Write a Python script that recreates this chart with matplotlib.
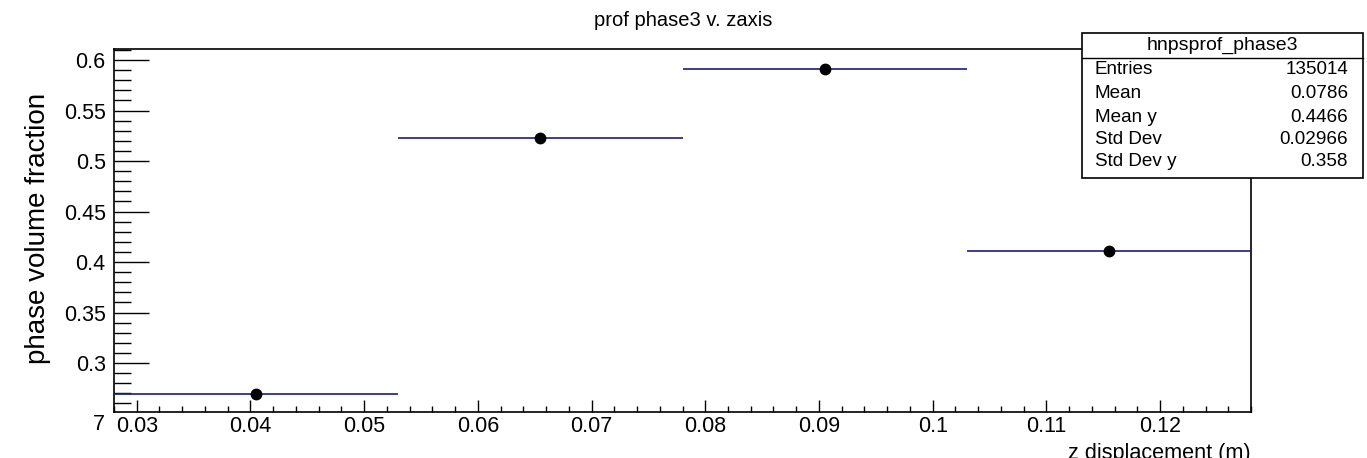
import matplotlib
matplotlib.use('Agg')
import matplotlib.pyplot as plt
from matplotlib.patches import Rectangle
from matplotlib.ticker import MultipleLocator
import numpy as np

plt.rcParams['font.family'] = ['Liberation Sans', 'DejaVu Sans']

# profile bins (z displacement) and mean phase volume fraction per bin
bin_edges = [0.028, 0.053, 0.078, 0.103, 0.128]
bin_means = [0.269, 0.5225, 0.591, 0.411]

stats_title = 'hnpsprof_phase3'
stats_names = ['Entries', 'Mean', 'Mean y', 'Std Dev', 'Std Dev y']
stats_values = ['135014', '0.0786', '0.4466', '0.02966', '0.358']

W, H = 1367, 458
fig = plt.figure(figsize=(W / 100, H / 100), dpi=100)

def fx(px):
    return px / W

def fy(py):
    return 1 - py / H

ax = fig.add_axes([fx(114), fy(412), fx(1251) - fx(114), fy(49) - fy(412)])

edges = np.array(bin_edges)
centers = (edges[:-1] + edges[1:]) / 2
half = (edges[1:] - edges[:-1]) / 2

ax.errorbar(centers, bin_means, xerr=half, fmt='o', color='black', ms=7.5,
            ecolor='#1c1c80', elinewidth=1.2, capsize=0, zorder=3)

ax.set_xlim(edges[0], edges[-1])
ax.set_ylim(0.2515, 0.611)

ax.xaxis.set_major_locator(MultipleLocator(0.01))
ax.xaxis.set_minor_locator(MultipleLocator(0.002))
ax.yaxis.set_major_locator(MultipleLocator(0.05))
ax.yaxis.set_minor_locator(MultipleLocator(0.01))
ax.set_xticks([0.03, 0.04, 0.05, 0.06, 0.07, 0.08, 0.09, 0.1, 0.11, 0.12])
ax.set_xticklabels(['0.03', '0.04', '0.05', '0.06', '0.07', '0.08', '0.09', '0.1', '0.11', '0.12'])
ax.set_yticks([0.3, 0.35, 0.4, 0.45, 0.5, 0.55, 0.6])
ax.set_yticklabels(['0.3', '0.35', '0.4', '0.45', '0.5', '0.55', '0.6'])

ax.tick_params(axis='y', which='major', direction='in', length=25, width=1, labelsize=15.5, pad=6)
ax.tick_params(axis='y', which='minor', direction='in', length=12.5, width=1)
ax.tick_params(axis='x', which='major', direction='in', length=9, width=1, labelsize=15.5, pad=3)
ax.tick_params(axis='x', which='minor', direction='in', length=4.5, width=1)
for s in ax.spines.values():
    s.set_linewidth(1.2)

fig.text(fx(683), fy(21), 'prof phase3 v. zaxis', ha='center', va='center', fontsize=14.5)
fig.text(fx(38), fy(228), 'phase volume fraction', rotation=90, ha='center', va='center', fontsize=20)
fig.text(fx(1251), fy(443), 'z displacement (m)', ha='right', va='top', fontsize=15.6)
fig.text(fx(99), fy(424), '7', ha='center', va='center', fontsize=15.5)

# stats box
bx0, by0, bx1, by1 = 1082, 33, 1363, 178
fig.patches.append(Rectangle((fx(bx0), fy(by1)), fx(bx1) - fx(bx0), fy(by0) - fy(by1),
                             transform=fig.transFigure, facecolor='white', edgecolor='black',
                             linewidth=1.2, zorder=5))
fig.add_artist(plt.Line2D([fx(bx0), fx(bx1)], [fy(58), fy(58)], transform=fig.transFigure,
                          color='black', linewidth=1.0, zorder=6))
fig.text(fx((bx0 + bx1) / 2), fy(45), stats_title, ha='center', va='center', fontsize=14, zorder=7)
row_y = [70, 94, 117, 140, 162]
for name, val, ry in zip(stats_names, stats_values, row_y):
    fig.text(fx(1095), fy(ry), name, ha='left', va='center', fontsize=13.6, zorder=7)
    fig.text(fx(1348), fy(ry), val, ha='right', va='center', fontsize=13.6, zorder=7)

fig.savefig('out.png', dpi=100)
